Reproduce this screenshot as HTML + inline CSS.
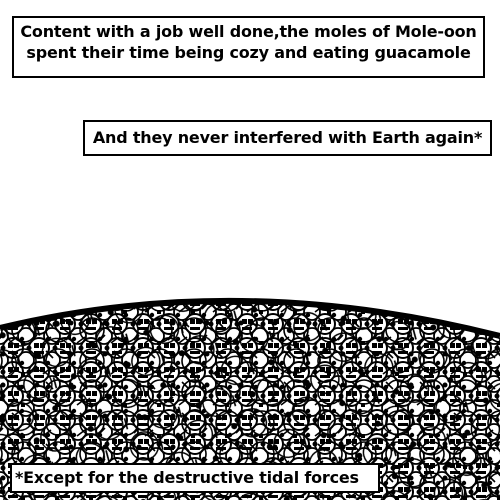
<!DOCTYPE html>
<html><head><style>
html,body{margin:0;padding:0;background:#fff;}
body{width:500px;height:500px;position:relative;overflow:hidden;font-family:"DejaVu Sans","Liberation Sans",sans-serif;font-weight:bold;color:#000;}
.box{position:absolute;background:#fff;border:2px solid #000;box-sizing:border-box;white-space:nowrap;letter-spacing:-0.2px;}
svg{position:absolute;left:0;top:0;}
</style></head><body>
<svg width="500" height="500" viewBox="0 0 500 500">
<defs>
<pattern id="p1" width="26" height="24" patternUnits="userSpaceOnUse">
<rect width="26" height="24" fill="#fff"/>
<circle cx="13" cy="12" r="10" fill="none" stroke="#000" stroke-width="2"/>
<circle cx="0" cy="0" r="8" fill="none" stroke="#000" stroke-width="1.8"/>
<circle cx="26" cy="0" r="8" fill="none" stroke="#000" stroke-width="1.8"/>
<circle cx="0" cy="24" r="8" fill="none" stroke="#000" stroke-width="1.8"/>
<circle cx="26" cy="24" r="8" fill="none" stroke="#000" stroke-width="1.8"/>
<rect x="8" y="7" width="5" height="5" fill="#000"/>
<rect x="14" y="7" width="5" height="5" fill="#000"/>
<path d="M8 15 h10 v3 h-10z" fill="#000"/>
<circle cx="3" cy="12" r="2.5" fill="#000"/>
<circle cx="22" cy="3" r="2.2" fill="#000"/>
</pattern>
<pattern id="p2" width="34" height="31" patternUnits="userSpaceOnUse" x="7" y="5">
<circle cx="17" cy="15" r="12" fill="none" stroke="#000" stroke-width="1.6"/>
<path d="M5 5 L12 12 M25 25 L30 20 M2 28 L10 22" stroke="#000" stroke-width="1.6"/>
<circle cx="30" cy="8" r="2.5" fill="#000"/>
<rect x="14" y="26" width="4" height="4" fill="#000"/>
</pattern>
<pattern id="p3" width="41" height="37" patternUnits="userSpaceOnUse" patternTransform="rotate(30)">
<circle cx="20" cy="18" r="14" fill="none" stroke="#000" stroke-width="1.5"/>
<circle cx="6" cy="30" r="3" fill="#000"/>
<path d="M30 4 L38 12" stroke="#000" stroke-width="1.6"/>
</pattern>
</defs>
<path d="M0 328 Q240 270 500 336 L500 500 L0 500Z" fill="url(#p1)"/>
<path d="M0 328 Q240 270 500 336 L500 500 L0 500Z" fill="url(#p2)"/>
<path d="M0 328 Q240 270 500 336 L500 500 L0 500Z" fill="url(#p3)"/>
<path d="M0 328 Q240 270 500 336" fill="none" stroke="#000" stroke-width="6"/>
</svg>
<div class="box" style="left:12px;top:16px;width:473px;height:62px;font-size:16px;line-height:21px;padding-top:3px;text-align:center;">Content with a job well done,the moles of Mole-oon<br>spent their time being cozy and eating guacamole</div>
<div class="box" style="left:83px;top:120px;width:409px;height:36px;font-size:16px;line-height:32px;text-align:center;">And they never interfered with Earth again*</div>
<div class="box" style="left:10px;top:463px;width:370px;height:30px;font-size:16px;line-height:26px;padding-left:3px;">*Except for the destructive tidal forces</div>
</body></html>
